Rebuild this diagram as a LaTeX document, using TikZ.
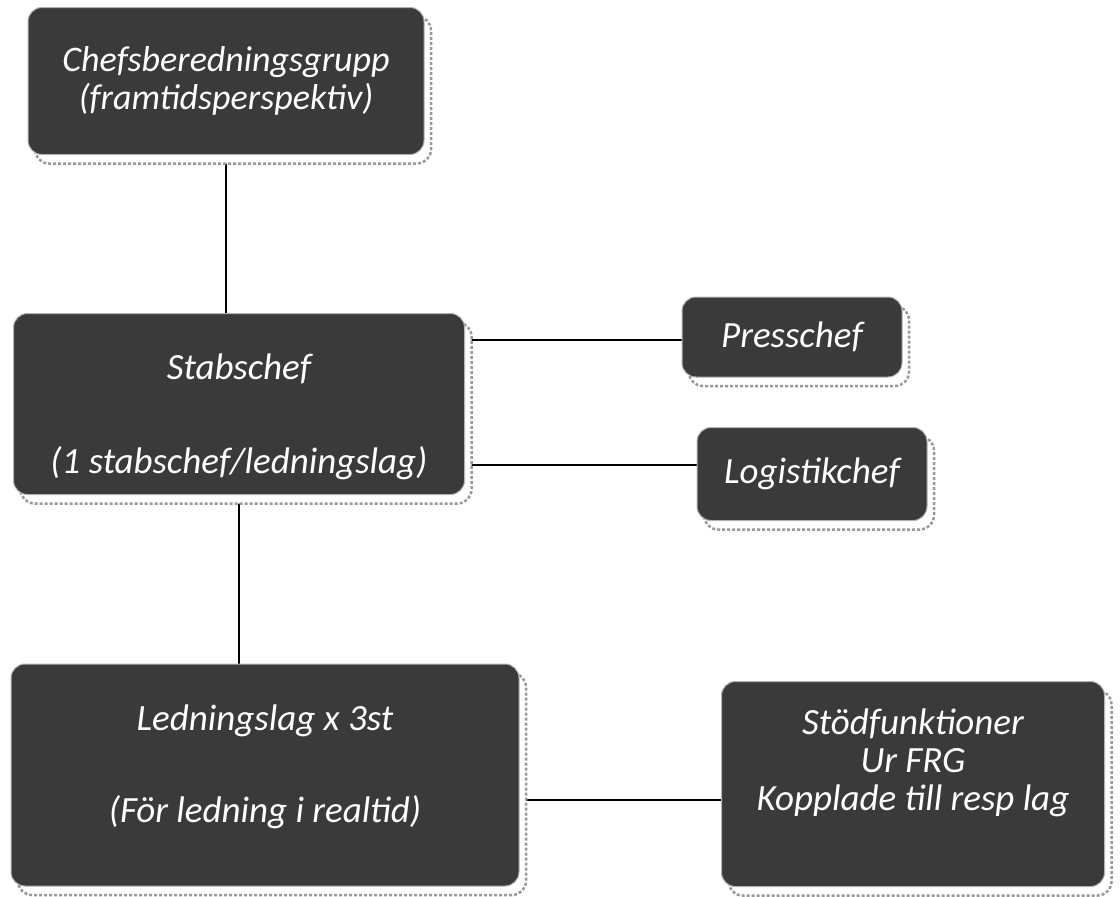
\documentclass[tikz,border=0pt]{standalone}
\usepackage{fontspec}
\setmainfont{Carlito}
\usetikzlibrary{shadows,backgrounds}
\definecolor{boxgray}{RGB}{58,58,58}
\tikzset{
  orgbox/.style={rectangle, rounded corners=14pt, fill=boxgray, draw=gray!60,
    line width=1pt, text=white, align=center, inner sep=0pt,
    font=\fontsize{37}{44}\selectfont\itshape,
    copy shadow={shadow xshift=7pt, shadow yshift=-9pt, fill=white,
      draw=gray!80, line width=2.5pt, dash pattern=on 3pt off 2pt}},
  link/.style={black, line width=1.2pt}
}
\begin{document}
\begin{tikzpicture}[x=1pt,y=-1pt]
    \useasboundingbox (0,0) rectangle (1120,897);
    \node[orgbox, minimum width=396pt, minimum height=147pt,
        font=\fontsize{36}{38}\selectfont\itshape] (chef) at (226,81)
        {Chefsberedningsgrupp\\(framtidsperspektiv)};
    \node[orgbox, minimum width=451pt, minimum height=181pt] (stab) at (239,404)
        {\rule{0pt}{52pt}Stabschef\\[50pt](1 stabschef/ledningslag)};
    \node[orgbox, minimum width=220pt, minimum height=80pt] (press) at (792,337)
        {Presschef};
    \node[orgbox, minimum width=230pt, minimum height=93pt] (logi) at (812,474)
        {Logistikchef};
    \node[orgbox, minimum width=508pt, minimum height=222pt] (led) at (265,775)
        {Ledningslag x 3st\\[48pt](För ledning i realtid)\\[-22pt]};
    \node[orgbox, minimum width=383pt, minimum height=205pt,
        font=\fontsize{37}{38}\selectfont\itshape] (stod) at (913,784)
        {Stödfunktioner\\Ur FRG\\Kopplade till resp lag\\[10pt]};
    \begin{scope}[on background layer]
    \draw[link] (chef.south) -- (chef.south |- stab.north);
    \draw[link] (stab.south) -- (stab.south |- led.north);
    \draw[link] ([yshift=-3pt]press.west) -- ([yshift=-3pt]press.west -| stab.east);
    \draw[link] ([yshift=9pt]logi.west) -- ([yshift=9pt]logi.west -| stab.east);
    \draw[link] ([yshift=-16pt]stod.west) -- ([yshift=-16pt]stod.west -| led.east);
    \end{scope}
\end{tikzpicture}
\end{document}
